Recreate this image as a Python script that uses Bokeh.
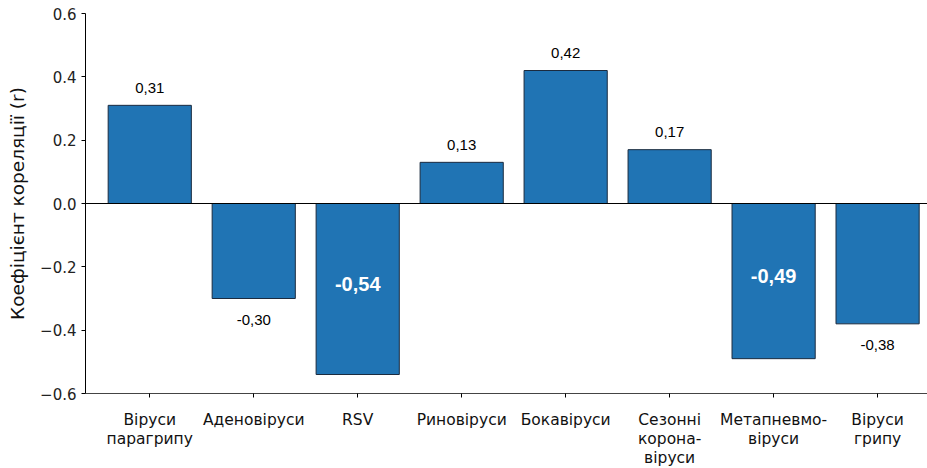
from bokeh.plotting import figure
from bokeh.layouts import column
from bokeh.models import ColumnDataSource, FixedTicker, Span
from bokeh.core.properties import value
from bokeh.embed import file_html
from bokeh.resources import INLINE

# Correlation coefficient per virus group
categories = ["Віруси\nпарагрипу", "Аденовіруси", "RSV", "Риновіруси", "Бокавіруси",
              "Сезонні\nкорона-\nвіруси", "Метапневмо-\nвіруси", "Віруси\nгрипу"]
r_values = [0.31, -0.30, -0.54, 0.13, 0.42, 0.17, -0.49, -0.38]
significant = [False, False, True, False, False, False, True, False]
y_ticks = [-0.6, -0.4, -0.2, 0.0, 0.2, 0.4, 0.6]

WIDTH = 927
TOP_H = 405          # chart panel (frame + tick marks)
LABEL_H = 468 - TOP_H  # strip holding the multi-line category names

xs = list(range(len(categories)))
labels = [f"{v:.2f}".replace(".", ",") for v in r_values]

p = figure(width=WIDTH, height=TOP_H, output_backend="svg", toolbar_location=None,
           x_range=(-0.618, 7.48), y_range=(-0.6, 0.6),
           min_border_left=85, min_border_right=0, min_border_top=13, min_border_bottom=12)
p.outline_line_color = None
p.xgrid.visible = False
p.ygrid.visible = False

src = ColumnDataSource(dict(x=xs, top=r_values))
p.vbar(x="x", top="top", bottom=0, width=0.8, source=src,
       fill_color="#2074b4", line_color="#1b2b3f", line_width=1)

p.add_layout(Span(location=0, dimension="width", line_color="black", line_width=1))

# plain labels outside the bars, bold white labels inside significant bars
out_x, out_y, out_t = [], [], []
in_x, in_y, in_t = [], [], []
for x, v, t, s in zip(xs, r_values, labels, significant):
    if s:
        in_x.append(x); in_y.append(v / 2 + 0.015); in_t.append(t)
    else:
        out_x.append(x); out_y.append(v + (0.056 if v > 0 else -0.068)); out_t.append(t)

p.text(x=out_x, y=out_y, text=out_t, text_font=value("Liberation Sans"),
       text_font_size="15px", text_color="black", text_align="center", text_baseline="middle")
p.text(x=in_x, y=in_y, text=in_t, text_font=value("Liberation Sans"), text_font_style="bold",
       text_font_size="20px", text_color="white", text_align="center", text_baseline="middle")

# y axis
ya = p.yaxis[0]
ya.ticker = FixedTicker(ticks=y_ticks)
ya.major_label_overrides = {t: f"{t:.1f}".replace("-", "\u2212") for t in y_ticks}
ya.axis_label = "Коефіцієнт кореляції (r)"
ya.axis_label_text_font = "DejaVu Sans"
ya.axis_label_text_font_size = "18.5px"
ya.axis_label_text_font_style = "normal"
ya.axis_label_text_color = "#111111"
ya.axis_label_standoff = 9
ya.major_label_text_font = "DejaVu Sans"
ya.major_label_text_font_size = "15px"
ya.major_label_text_color = "#222222"
ya.major_tick_in = 0
ya.major_tick_out = 4
ya.minor_tick_line_color = None
ya.axis_line_color = "black"
ya.major_label_standoff = 5

# x axis: tick marks only; names go in the strip below
xa = p.xaxis[0]
xa.ticker = FixedTicker(ticks=xs)
xa.major_label_overrides = {i: "" for i in xs}
xa.major_label_standoff = 0
xa.major_tick_in = 0
xa.major_tick_out = 4
xa.minor_tick_line_color = None
xa.axis_line_color = "#444444"

# category names, sharing the chart's x scale (y measured in pixels down from the strip top)
q = figure(width=WIDTH, height=LABEL_H, output_backend="svg", toolbar_location=None,
           x_range=p.x_range, y_range=(-LABEL_H, 0),
           min_border_left=85, min_border_right=0, min_border_top=0, min_border_bottom=0,
           x_axis_location=None, y_axis_location=None)
q.outline_line_color = None
q.xgrid.visible = False
q.ygrid.visible = False
q.text(x=xs, y=[-5] * len(xs), text=categories, text_font=value("DejaVu Sans"),
       text_font_size="15.5px", text_color="#111111", text_align="center",
       text_baseline="top", text_line_height=1.07)

open("out.html", "w").write(file_html(column(p, q, spacing=0), INLINE))
